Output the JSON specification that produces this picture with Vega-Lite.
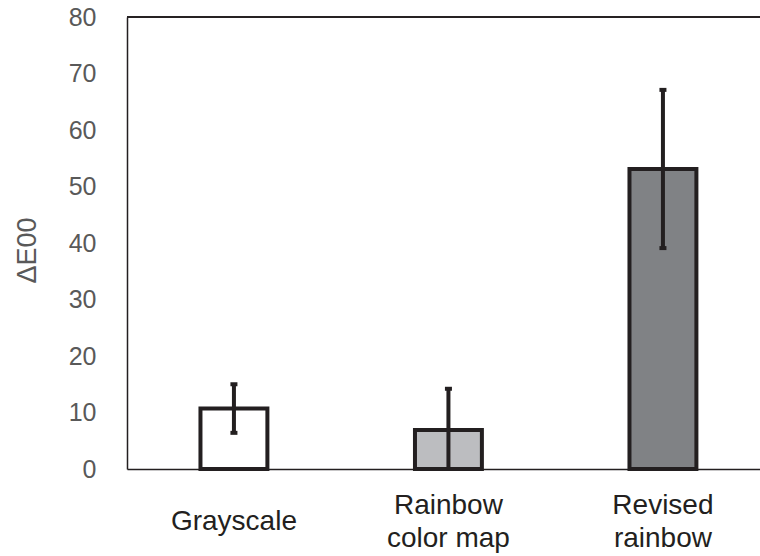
{
  "$schema": "https://vega.github.io/schema/vega-lite/v6.json",
  "autosize": {"type": "none"},
  "padding": {"left": 127, "top": 17, "right": 0, "bottom": 87},
  "width": 633,
  "height": 452,
  "background": "white",
  "config": {
    "view": {"stroke": null},
    "font": "Liberation Sans"
  },
  "data": {
    "values": [
      {"cat": "Grayscale", "value": 10.7, "lo": 6.4, "hi": 15.0},
      {"cat": "Rainbow|color map", "value": 6.9, "lo": 0, "hi": 14.2},
      {"cat": "Revised|rainbow", "value": 53.1, "lo": 39.1, "hi": 67.1}
    ]
  },
  "encoding": {
    "x": {
      "field": "cat",
      "type": "nominal",
      "sort": null,
      "scale": {"paddingInner": 0.688, "paddingOuter": 0.3195, "align": 0.536},
      "axis": {
        "title": null,
        "labelAngle": 0,
        "ticks": false,
        "domainColor": "#231f20",
        "domainWidth": 1.5,
        "labelFont": "Liberation Sans",
        "labelFontSize": 28,
        "labelColor": "#231f20",
        "labelBaseline": "alphabetic",
        "labelLineHeight": 33,
        "labelPadding": {"condition": {"test": "datum.value == 'Grayscale'", "value": 60}, "value": 44},
        "labelExpr": "split(datum.label, '|')"
      }
    }
  },
  "layer": [
    {
      "mark": {"type": "rule", "color": "#231f20", "strokeWidth": 1.5},
      "encoding": {"y": {"datum": 80, "type": "quantitative"}, "x": null}
    },
    {
      "mark": {"type": "bar", "stroke": "#231f20", "strokeWidth": 4},
      "encoding": {
        "y": {
          "field": "value",
          "type": "quantitative",
          "scale": {"domain": [0, 80], "nice": false},
          "axis": {
            "values": [0, 10, 20, 30, 40, 50, 60, 70, 80],
            "grid": false,
            "ticks": false,
            "domainColor": "#231f20",
            "domainWidth": 1.5,
            "labelFont": "Liberation Sans",
            "labelFontSize": 25,
            "labelColor": "#595959",
            "labelPadding": 31,
            "title": "ΔE00",
            "titleFont": "Liberation Sans",
            "titleFontSize": 27,
            "titleFontWeight": "normal",
            "titleColor": "#595959",
            "titleAngle": -90,
            "titleAlign": "center",
            "titleBaseline": "middle",
            "titleX": -100,
            "titleY": 233
          }
        },
        "fill": {
          "field": "cat",
          "type": "nominal",
          "scale": {
            "domain": ["Grayscale", "Rainbow|color map", "Revised|rainbow"],
            "range": ["#ffffff", "#bcbdc0", "#808285"]
          },
          "legend": null
        }
      }
    },
    {
      "mark": {"type": "rule", "color": "#231f20", "strokeWidth": 4},
      "encoding": {
        "y": {"field": "lo", "type": "quantitative"},
        "y2": {"field": "hi"}
      }
    },
    {
      "mark": {"type": "tick", "color": "#231f20", "thickness": 4, "size": 7, "opacity": 1},
      "encoding": {"y": {"field": "hi", "type": "quantitative"}}
    },
    {
      "transform": [{"filter": "datum.lo > 0"}],
      "mark": {"type": "tick", "color": "#231f20", "thickness": 4, "size": 7, "opacity": 1},
      "encoding": {"y": {"field": "lo", "type": "quantitative"}}
    }
  ]
}
